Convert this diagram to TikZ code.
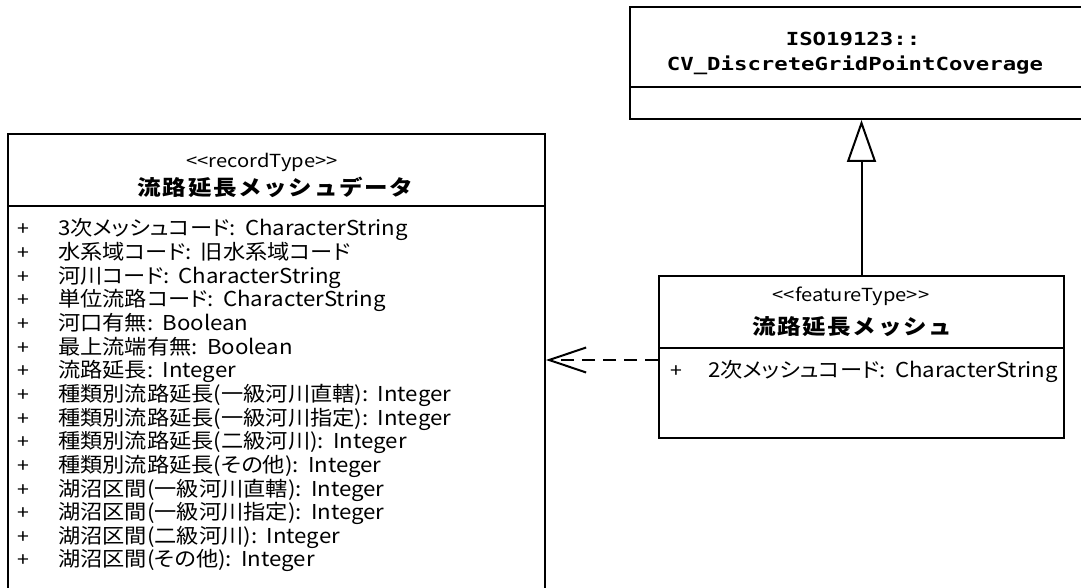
\documentclass[tikz,border=0pt]{standalone}
\usepackage{fontspec}
\setmainfont{Noto Sans CJK JP}[FakeStretch=1.12]
\newfontfamily\attrfont{Noto Sans CJK JP}[FakeStretch=1.085, RawFeature=+palt]
\newfontfamily\isofont{DejaVu Sans Mono}[FakeStretch=1.24]
\usetikzlibrary{arrows.meta}
\begin{document}
\begin{tikzpicture}[x=1pt,y=-1pt,
  box/.style={draw, line width=2pt, inner sep=0pt, anchor=north west},
  attr/.style={anchor=base west, inner sep=0pt, font=\fontsize{20.5}{20.5}\attrfont},
  plus/.style={anchor=base, inner sep=0pt, font=\fontsize{19}{19}\selectfont},
  stereo/.style={anchor=base, inner sep=0pt, font=\fontsize{18}{18}\selectfont},
  title/.style={anchor=base, inner sep=0pt, font=\fontsize{21}{21}\selectfont\bfseries\addfontfeature{LetterSpace=8}},
  isotext/.style={anchor=base, inner sep=0pt, font=\fontsize{18}{18}\isofont\bfseries},
  sep/.style={line width=2pt},
  gen/.style={line width=2pt, -{Triangle[open, length=42pt, width=29pt, line width=2pt]}},
  dep/.style={line width=2pt, dash pattern=on 13pt off 8pt, -{Straight Barb[length=37pt, width=25pt, line width=2pt]}}
]
\useasboundingbox (0,0) rectangle (1081,588);

% record type box
\node[box, minimum width=537pt, minimum height=455pt] (rec) at (7,133) {};
\draw[sep] ([yshift=-73pt]rec.north west) -- ([yshift=-73pt]rec.north east);
\node[stereo] (recst) at (262,168) {<{}<recordType>{}>};
\node[title] (rectitle) at (275.5,196) {流路延長メッシュデータ};

\foreach \t [count=\i from 0] in {
  3次メッシュコード:\hspace{0.45em}CharacterString,
  水系域コード:\hspace{0.45em}旧水系域コード,
  河川コード:\hspace{0.45em}CharacterString,
  単位流路コード:\hspace{0.45em}CharacterString,
  河口有無:\hspace{0.45em}Boolean,
  最上流端有無:\hspace{0.45em}Boolean,
  流路延長:\hspace{0.45em}Integer,
  種類別流路延長(一級河川直轄):\hspace{0.45em}Integer,
  種類別流路延長(一級河川指定):\hspace{0.45em}Integer,
  種類別流路延長(二級河川):\hspace{0.45em}Integer,
  種類別流路延長(その他):\hspace{0.45em}Integer,
  湖沼区間(一級河川直轄):\hspace{0.45em}Integer,
  湖沼区間(一級河川指定):\hspace{0.45em}Integer,
  湖沼区間(二級河川):\hspace{0.45em}Integer,
  湖沼区間(その他):\hspace{0.45em}Integer}
{
  \node[plus] (p\i) at (23,236+23.64*\i) {+};
  \node[attr] (a\i) at (58,236+23.64*\i) {\t};
}

% ISO box
\node[box, minimum width=463pt, minimum height=112pt] (iso) at (629,6) {};
\draw[sep] ([yshift=-81pt]iso.north west) -- ([yshift=-81pt]iso.north east);
\node[isotext] (isol1) at (853,46) {ISO19123::};
\node[isotext] (isol2) at (855,71) {CV\_DiscreteGridPointCoverage};

% feature type box
\node[box, minimum width=405pt, minimum height=162pt] (feat) at (658,275) {};
\draw[sep] ([yshift=-73pt]feat.north west) -- ([yshift=-73pt]feat.north east);
\node[stereo] (featst) at (851,301) {<{}<featureType>{}>};
\node[title] (feattitle) at (852,334) {流路延長メッシュ};
\node[plus] (fp) at (676,377) {+};
\node[attr] (fa) at (708,377) {2次メッシュコード:\hspace{0.45em}CharacterString};

% connectors
\draw[gen] (feat.north) -- (feat.north |- iso.south);
\draw[dep] ([yshift=-3pt]feat.west) -- ([yshift=-3pt]feat.west -| rec.east);
\end{tikzpicture}
\end{document}
